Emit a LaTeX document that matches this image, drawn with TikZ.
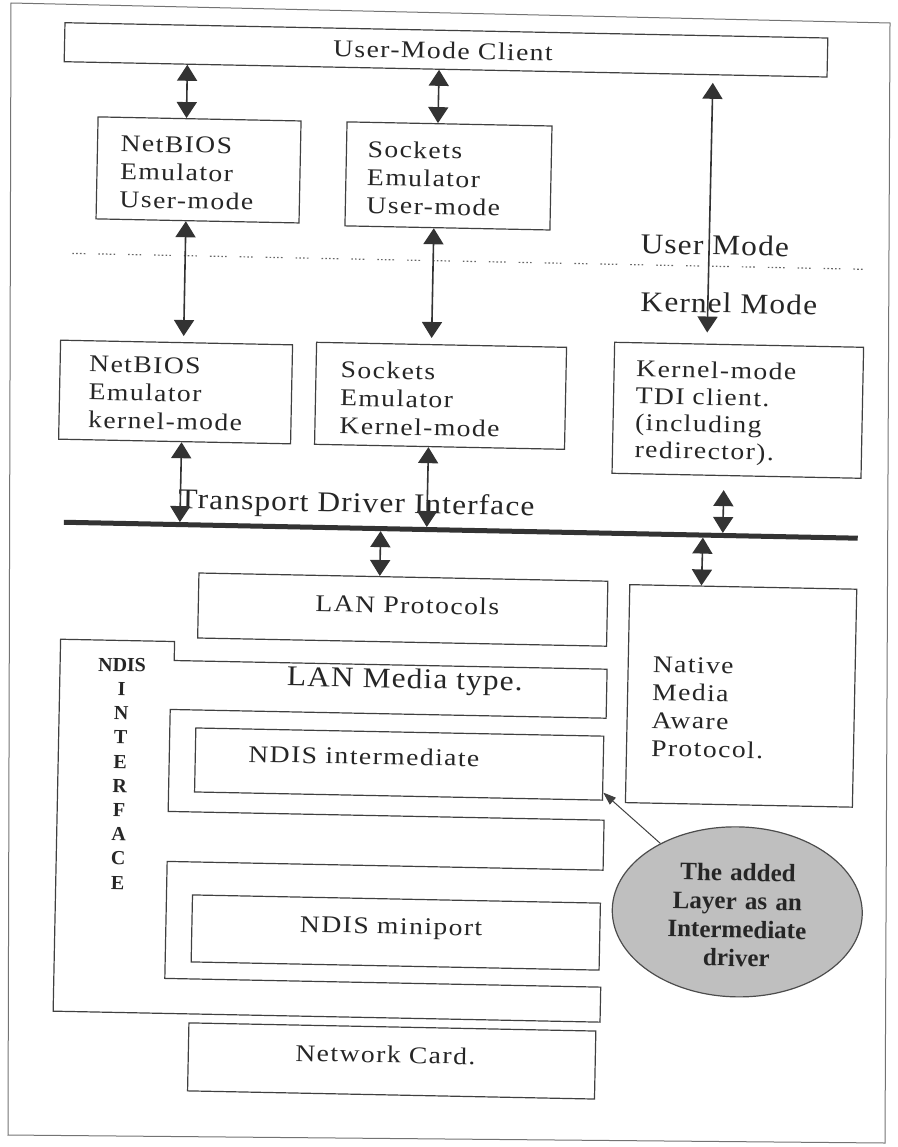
\documentclass[tikz,border=0pt]{standalone}
\usepackage{fontspec}
\setmainfont{Liberation Serif}
\newfontfamily\smf[FakeStretch=1.15,LetterSpace=6]{Liberation Serif}
\newfontfamily\bgf[FakeStretch=1.1,LetterSpace=4]{Liberation Serif}
\usetikzlibrary{arrows.meta,calc,shapes.geometric}
\tikzset{
  ln/.style={draw=black!75, line width=1.2pt},
  box/.style={ln, rectangle, inner sep=0pt},
  txt/.style={text=black!85, inner sep=0pt, font=\fontsize{24}{28}\smf},
  mtxt/.style={txt, text width=240pt, align=left, anchor=base west},
  bigt/.style={text=black!85, inner sep=0pt, font=\fontsize{28.5}{32}\bgf, anchor=base west},
  dbl/.style={{Triangle[width=20pt,length=16pt]}-{Triangle[width=20pt,length=16pt]}, line width=1.6pt, draw=black!80},
  dotline/.style={draw=black!60, line width=1.2pt, dash pattern=on 1.6pt off 2.2pt on 1.6pt off 2.2pt on 1.6pt off 2.2pt on 1.6pt off 13pt on 1.6pt off 2.2pt on 1.6pt off 2.2pt on 1.6pt off 2.2pt on 1.6pt off 2.2pt on 1.6pt off 13pt}
}
\begin{document}
\begin{tikzpicture}[x=1pt,y=-1pt]
\useasboundingbox (0,0) rectangle (897,1147);
\draw[draw=black!55, line width=1pt] (11,3) -- (890,23) -- (885,1143) -- (8,1135) -- cycle;
\begin{scope}[rotate around={-1.15:(448,573)}, transform shape]
% boxes
\node[box, minimum width=763pt, minimum height=39pt] (umc) at (435.5,50) {};
\node[box, minimum width=203pt, minimum height=102pt] (nbu) at (190.5,175) {};
\node[box, minimum width=205pt, minimum height=104pt] (sou) at (440.5,176) {};
\node[box, minimum width=232pt, minimum height=99pt] (nbk) at (172,397.5) {};
\node[box, minimum width=250pt, minimum height=102pt] (sok) at (437,396) {};
\node[box, minimum width=249pt, minimum height=131pt] (tdi) at (734.5,404.5) {};
\node[box, minimum width=409pt, minimum height=65pt] (lanp) at (403.5,610.5) {};
\node[box, minimum width=227pt, minimum height=218pt] (nat) at (743.5,690) {};
\node[box, minimum width=408pt, minimum height=64pt] (inter) at (403,765) {};
\node[box, minimum width=408pt, minimum height=67pt] (mini) at (403,933.5) {};
\node[box, minimum width=407pt, minimum height=68pt] (card) at (401.5,1062) {};
\node[ellipse, draw=black!70, line width=1.2pt, fill=black!25, minimum width=250pt, minimum height=170pt, inner sep=0pt] (ell) at (744,906) {};
% NDIS outline
\draw[ln] (62,647) -- (176,647) -- (176,666) -- (609,666) -- (609,715) -- (173,715) -- (173,817) -- (609,817) -- (609,867) -- (173,867) -- (173,984) -- (609,984) -- (609,1019) -- (62,1019) -- cycle;
% separators
\draw[dotline] (66,261) -- (858,261);
\coordinate (tl) at (63,530);
\coordinate (tr) at (857,530);
\draw[draw=black!80, line width=5pt] (tl) -- (tr);
% texts
\node[txt, anchor=base] (umct) at (432.5,59) {User-Mode Client};
\node[mtxt] (nbut) at (112,158) {NetBIOS\\Emulator\\User-mode};
\node[mtxt] (sout) at (359,159) {Sockets\\Emulator\\User-mode};
\node[mtxt] (nbkt) at (85,379) {NetBIOS\\Emulator\\kernel-mode};
\node[mtxt] (sokt) at (336.5,380) {Sockets\\Emulator\\Kernel-mode};
\node[mtxt, font=\fontsize{24}{27}\smf] (tdit) at (632,373) {Kernel-mode\\TDI client.\\(including\\redirector).};
\node[bigt] (umode) at (634,249.5) {User Mode};
\node[bigt] (kmode) at (635,307.5) {Kernel Mode};
\node[bigt] (tdiface) at (177,514) {Transport Driver Interface};
\node[txt, anchor=base west] (lanpt) at (316,614) {LAN Protocols};
\node[bigt] (media) at (289,689) {LAN Media type.};
\node[txt, anchor=base west] (intert) at (252,766) {NDIS intermediate};
\node[txt, anchor=base west] (minit) at (307,935) {NDIS miniport};
\node[txt, anchor=base west] (cardt) at (305,1064) {Network Card.};
\node[mtxt] (natt) at (654.5,668) {Native\\Media\\Aware\\Protocol.};
\node[text=black!85, inner sep=0pt, font=\fontsize{25}{28.5}\selectfont\bfseries, text width=250pt, align=center, anchor=base] (ellt) at (744,875) {The added\\Layer as an\\Intermediate\\driver};
\node[text=black!85, inner sep=0pt, font=\fontsize{20}{24.2}\selectfont\bfseries, text width=60pt, align=center, anchor=base] (ndist) at (124,678) {NDIS\\I\\N\\T\\E\\R\\F\\A\\C\\E};
% connectors
\draw[dbl] ($(umc.south west)!0.162!(umc.south east)$) -- ($(nbu.north west)!0.436!(nbu.north east)$);
\draw[dbl] ($(umc.south west)!0.4915!(umc.south east)$) -- ($(sou.north west)!0.444!(sou.north east)$);
\draw[dbl, shorten <=7.5pt, shorten >=11pt] ($(umc.south west)!0.85!(umc.south east)$) -- ($(tdi.north west)!0.3715!(tdi.north east)$);
\draw[dbl, shorten >=6pt] ($(nbu.south west)!0.443!(nbu.south east)$) -- ($(nbk.north west)!0.530!(nbk.north east)$);
\draw[dbl, shorten >=6pt] ($(sou.south west)!0.434!(sou.south east)$) -- ($(sok.north west)!0.46!(sok.north east)$);
\draw[dbl, shorten >=2.5pt] ($(nbk.south west)!0.530!(nbk.south east)$) -- ($(tl)!0.146!(tr)$);
\draw[dbl, shorten >=2.5pt] ($(sok.south west)!0.456!(sok.south east)$) -- ($(tl)!0.457!(tr)$);
\draw[dbl, shorten <=14pt, shorten >=2.5pt] ($(tdi.south west)!0.45!(tdi.south east)$) -- ($(tl)!0.83!(tr)$);
\draw[dbl, shorten <=2.5pt] ($(tl)!0.399!(tr)$) -- ($(lanp.north west)!0.4425!(lanp.north east)$);
\draw[dbl, shorten <=2.5pt] ($(tl)!0.805!(tr)$) -- ($(nat.north west)!0.317!(nat.north east)$);
\coordinate (tipc) at ($(inter.south east)!0.125!(inter.north east)$);
\draw[-{Triangle[width=9pt,length=13pt]}, line width=1pt, draw=black!75] (ell) -- (tipc);
\end{scope}
\end{tikzpicture}
\end{document}
